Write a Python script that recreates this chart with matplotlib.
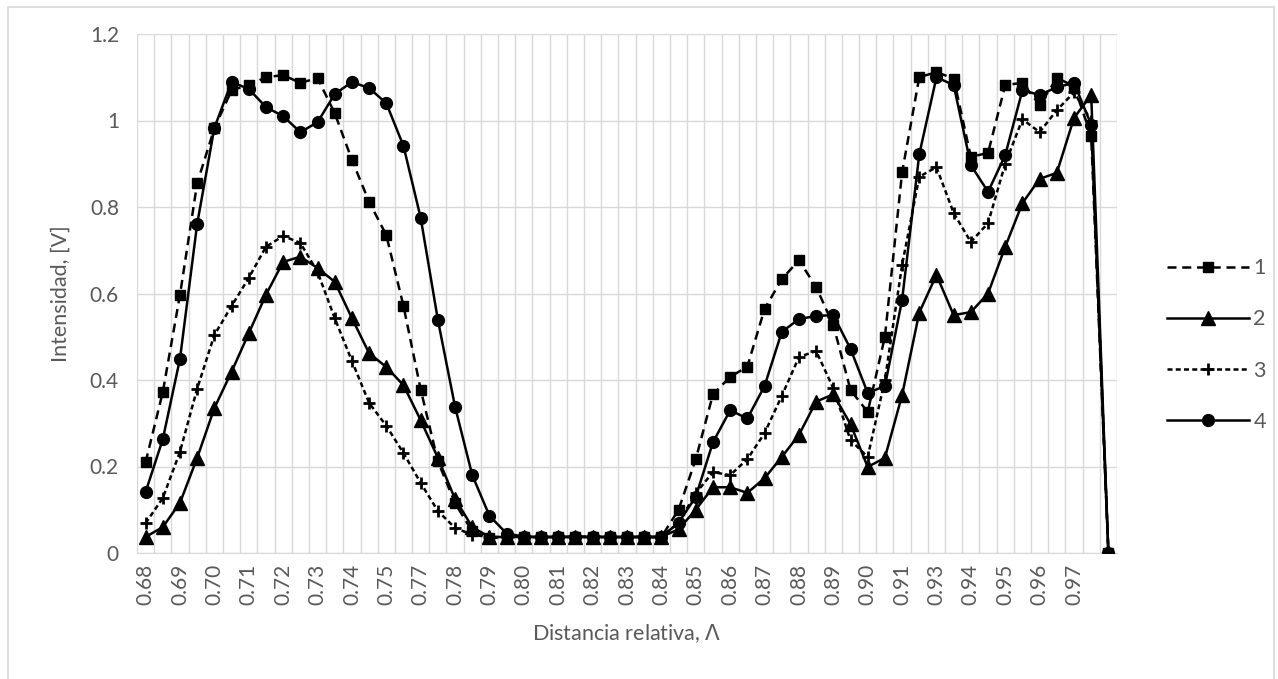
import numpy as np
import matplotlib
matplotlib.use("Agg")
import matplotlib.pyplot as plt
from matplotlib.patches import Rectangle

# tick labels along the category axis (every second category is labelled)
x_labels = ['0.68', '0.69', '0.70', '0.71', '0.72', '0.73', '0.74', '0.75',
            '0.77', '0.78', '0.79', '0.80', '0.81', '0.82', '0.83', '0.84',
            '0.85', '0.86', '0.87', '0.88', '0.89', '0.90', '0.91', '0.93',
            '0.94', '0.95', '0.96', '0.97']

# intensity readings, 57 categories each
serie_1 = [0.21, 0.372, 0.597, 0.855, 0.982, 1.07, 1.082, 1.10, 1.105, 1.087,
           1.098, 1.017, 0.909, 0.812, 0.735, 0.571, 0.378, 0.212, 0.115, 0.05,
           0.035, 0.035, 0.036, 0.037, 0.037, 0.038, 0.038, 0.038, 0.038, 0.037,
           0.037, 0.10, 0.217, 0.367, 0.407, 0.431, 0.564, 0.633, 0.677, 0.615,
           0.527, 0.377, 0.326, 0.50, 0.88, 1.10, 1.112, 1.097, 0.916, 0.925,
           1.082, 1.087, 1.036, 1.098, 1.08, 0.964, 0.0]

serie_2 = [0.037, 0.06, 0.116, 0.22, 0.335, 0.419, 0.508, 0.597, 0.673, 0.685,
           0.659, 0.627, 0.543, 0.462, 0.43, 0.388, 0.307, 0.22, 0.125, 0.06,
           0.037, 0.037, 0.037, 0.037, 0.037, 0.037, 0.037, 0.037, 0.037, 0.037,
           0.037, 0.055, 0.10, 0.152, 0.152, 0.139, 0.173, 0.222, 0.273, 0.35,
           0.367, 0.298, 0.199, 0.22, 0.365, 0.556, 0.643, 0.55, 0.557, 0.60,
           0.708, 0.809, 0.865, 0.879, 1.006, 1.059, 0.0]

serie_3 = [0.069, 0.127, 0.234, 0.38, 0.504, 0.571, 0.636, 0.708, 0.733, 0.717,
           0.65, 0.543, 0.444, 0.347, 0.294, 0.231, 0.162, 0.097, 0.058, 0.042,
           0.037, 0.037, 0.037, 0.037, 0.037, 0.037, 0.037, 0.037, 0.037, 0.037,
           0.037, 0.07, 0.138, 0.187, 0.18, 0.217, 0.277, 0.363, 0.453, 0.467,
           0.381, 0.261, 0.222, 0.40, 0.666, 0.87, 0.892, 0.786, 0.719, 0.763,
           0.90, 1.003, 0.973, 1.024, 1.065, 1.0, 0.0]

serie_4 = [0.141, 0.263, 0.449, 0.761, 0.983, 1.089, 1.073, 1.031, 1.01, 0.973,
           0.996, 1.061, 1.089, 1.075, 1.04, 0.941, 0.775, 0.539, 0.338, 0.18,
           0.086, 0.045, 0.038, 0.037, 0.037, 0.037, 0.037, 0.037, 0.037, 0.037,
           0.037, 0.07, 0.13, 0.256, 0.33, 0.311, 0.386, 0.511, 0.541, 0.548,
           0.55, 0.472, 0.37, 0.386, 0.585, 0.922, 1.10, 1.082, 0.897, 0.835,
           0.92, 1.07, 1.059, 1.077, 1.087, 0.99, 0.0]

plt.rcParams['font.family'] = ['Lato', 'DejaVu Sans']
gris = '#595959'

W, H = 1278, 679
fig = plt.figure(figsize=(W / 100, H / 100), dpi=100)
ax = fig.add_axes([137 / W, 1 - 553 / H, (1117 - 137) / W, (553 - 34) / H])

# chart frame
fig.patches.append(Rectangle((8 / W, -0.05), (1274 - 8) / W, 1.05 - 7 / H,
                             transform=fig.transFigure, fill=False,
                             edgecolor='#d9d9d9', lw=1.2))

n = len(serie_1)
x = np.arange(n)

lw = 1.8
ax.plot(x, serie_1, color='black', lw=lw, ls=(0, (3.6, 2.3)), marker='s',
        ms=7.5, label='1', zorder=3)
ax.plot(x, serie_2, color='black', lw=lw, ls='-', marker='^',
        ms=10, label='2', zorder=3)
ax.plot(x, serie_3, color='black', lw=lw, ls=(0, (2.0, 1.3)), marker='+',
        ms=9, mew=2, label='3', zorder=3)
ax.plot(x, serie_4, color='black', lw=lw, ls='-', marker='o',
        ms=8.5, label='4', zorder=3)

ax.set_xlim(-0.5, n - 0.5)
ax.set_ylim(0, 1.2)

# gridlines sit between categories, labels on every second one
ax.set_xticks(np.arange(0, len(x_labels) * 2, 2))
ax.set_xticklabels(x_labels, rotation=90)
ax.set_xticks(np.arange(-0.5, n, 1), minor=True)
ax.set_yticks(np.arange(0, 1.21, 0.2))
ax.set_yticklabels(['0', '0.2', '0.4', '0.6', '0.8', '1', '1.2'])

ax.grid(which='minor', axis='x', color='#d9d9d9', lw=1)
ax.grid(which='major', axis='y', color='#d9d9d9', lw=1)
ax.set_axisbelow(True)
ax.tick_params(which='both', length=0, colors=gris, labelsize=15)
ax.tick_params(axis='x', pad=8)
ax.tick_params(axis='y', pad=13)

for s in ['top', 'right', 'left']:
    ax.spines[s].set_visible(False)
ax.spines['bottom'].set_color('#d9d9d9')

ax.set_xlabel(r'Distancia relativa, $\mathit{\Lambda}$', color=gris,
              fontsize=15.5, labelpad=12)
ax.set_ylabel('Intensidad, [V]', color=gris, fontsize=15.5, labelpad=14)

leg = fig.legend(loc='center left', bbox_to_anchor=(1148 / W, 1 - 345 / H),
                 frameon=False, handlelength=3.8, labelspacing=1.45,
                 fontsize=15.5, handletextpad=0.2)
for t in leg.get_texts():
    t.set_color(gris)

fig.savefig('out.png', dpi=100)
